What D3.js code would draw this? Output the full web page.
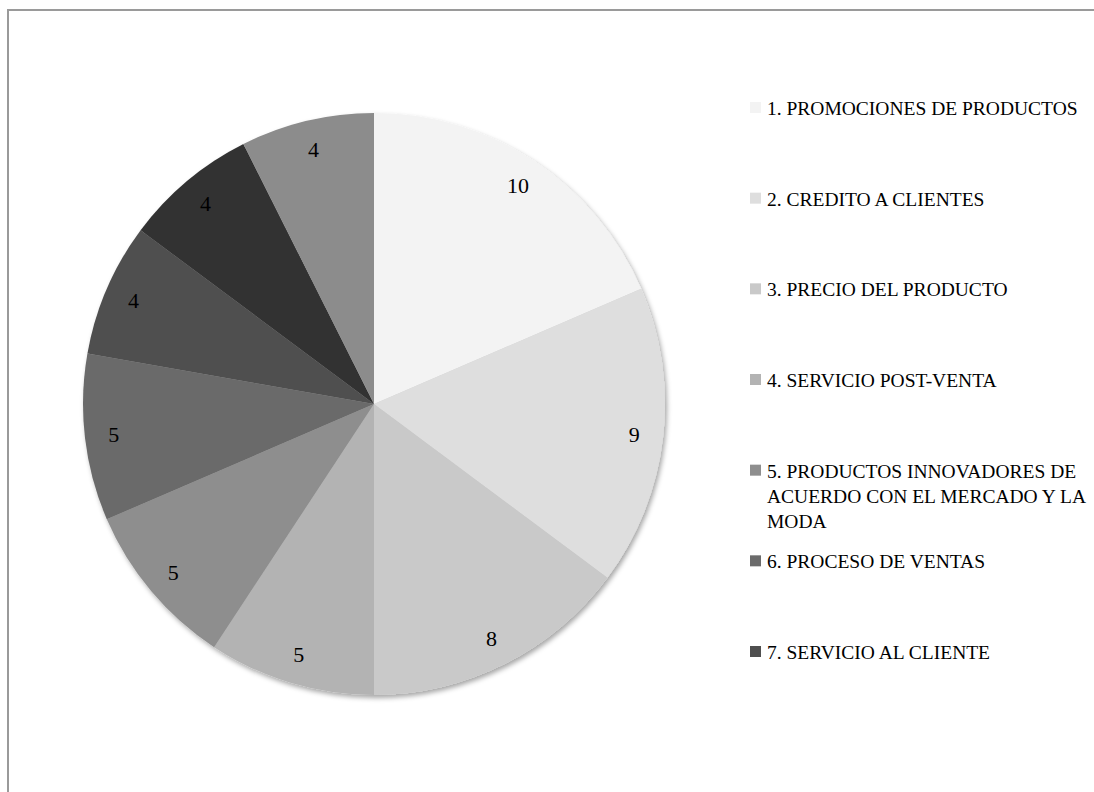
<!DOCTYPE html>
<html>
<head>
<meta charset="utf-8">
<script src="https://cdn.jsdelivr.net/npm/d3@7"></script>
<style>
  html, body { margin: 0; padding: 0; background: #fff; }
  svg { display: block; }
  text { font-family: "Liberation Serif", "Times New Roman", serif; fill: #000; }
</style>
</head>
<body>
<svg id="chart" width="1094" height="792"></svg>
<script>
// Factors and counts
const categories = [
  "1. PROMOCIONES DE PRODUCTOS",
  "2. CREDITO A CLIENTES",
  "3. PRECIO DEL PRODUCTO",
  "4. SERVICIO POST-VENTA",
  "5. PRODUCTOS INNOVADORES DE ACUERDO CON EL MERCADO Y LA MODA",
  "6. PROCESO DE VENTAS",
  "7. SERVICIO AL CLIENTE",
  "8",
  "9"
];
const values = [10, 9, 8, 5, 5, 5, 4, 4, 4];
const sliceColors = ["#f3f3f3", "#dedede", "#c9c9c9", "#b3b3b3", "#8e8e8e",
                     "#6b6b6b", "#4f4f4f", "#333333", "#8c8c8c"];
// Wrapped lines for the legend (only the first seven entries fit)
const legendLines = [
  ["1. PROMOCIONES DE PRODUCTOS"],
  ["2. CREDITO A CLIENTES"],
  ["3. PRECIO DEL PRODUCTO"],
  ["4. SERVICIO POST-VENTA"],
  ["5. PRODUCTOS INNOVADORES DE", "ACUERDO CON EL MERCADO Y LA", "MODA"],
  ["6. PROCESO DE VENTAS"],
  ["7. SERVICIO AL CLIENTE"]
];

const svg = d3.select("#chart");

// Chart frame (right and bottom edges run past the page)
svg.append("rect")
  .attr("x", 8).attr("y", 10)
  .attr("width", 1200).attr("height", 900)
  .attr("fill", "none")
  .attr("stroke", "#9a9a9a")
  .attr("stroke-width", 2);

const defs = svg.append("defs");
const f = defs.append("filter").attr("id", "pieShadow")
  .attr("x", "-10%").attr("y", "-10%").attr("width", "120%").attr("height", "120%");
f.append("feDropShadow")
  .attr("dx", 2).attr("dy", 3).attr("stdDeviation", 2.5)
  .attr("flood-color", "#000").attr("flood-opacity", 0.35);

const cx = 374, cy = 404, R = 291;
const color = d3.scaleOrdinal().domain(d3.range(values.length)).range(sliceColors);

const pie = d3.pie().sort(null).value(d => d.v);
const arcs = pie(values.map((v, i) => ({ v, i })));
const arc = d3.arc().innerRadius(0).outerRadius(R);
const labelArc = d3.arc().innerRadius(262).outerRadius(262);

const g = svg.append("g").attr("transform", `translate(${cx},${cy})`);
g.append("g").attr("filter", "url(#pieShadow)")
  .selectAll("path").data(arcs).join("path")
  .attr("d", arc)
  .attr("fill", d => color(d.data.i));

g.selectAll("text.val").data(arcs).join("text")
  .attr("class", "val")
  .attr("transform", d => `translate(${labelArc.centroid(d)})`)
  .attr("text-anchor", "middle")
  .attr("dominant-baseline", "central")
  .style("font-size", "22px")
  .text(d => d.data.v);

// Legend
const legendY = d3.scaleLinear().domain([0, 6]).range([108, 652]);
const lg = svg.append("g");
legendLines.forEach((lines, i) => {
  const y = legendY(i);
  lg.append("rect")
    .attr("x", 750).attr("y", y - 6)
    .attr("width", 11).attr("height", 11)
    .attr("fill", color(i));
  const t = lg.append("text")
    .attr("x", 767).attr("y", y)
    .attr("dominant-baseline", "central")
    .style("font-size", "19.5px");
  lines.forEach((ln, j) => {
    t.append("tspan").attr("x", 767).attr("dy", j === 0 ? 0 : 25).text(ln);
  });
});
</script>
</body>
</html>
